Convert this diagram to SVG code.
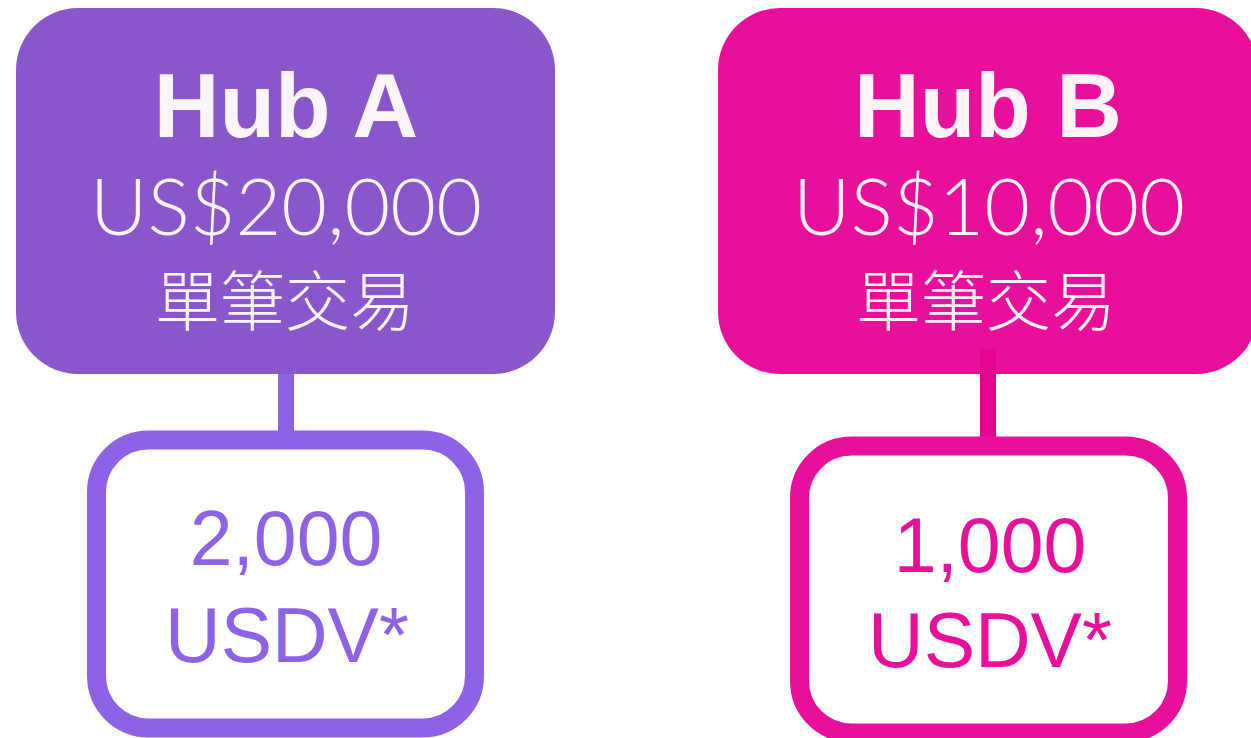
<svg xmlns="http://www.w3.org/2000/svg" width="1251" height="738" viewBox="0 0 1251 738">
<style>
.title{font-family:"Liberation Sans",Arial,sans-serif;font-weight:700;font-size:91px;text-anchor:middle}
.amt{font-family:Lato,"Noto Sans CJK TC",sans-serif;font-weight:300;font-size:79px;text-anchor:middle}
.cjk{font-family:"Noto Sans CJK TC","Noto Sans CJK SC",sans-serif;font-weight:300;font-size:65px;text-anchor:middle}
.val{font-family:"Liberation Sans",Arial,sans-serif;font-size:77px;text-anchor:middle}
.lt{fill:#F9F5FB}
.conn{fill:none;stroke-width:16}
.leaf{fill:#FFFFFF;stroke-width:19}
</style>
<rect width="1251" height="738" fill="#FFFFFF"/>
<g id="hubA">
<rect x="16" y="8" width="539" height="366" rx="62" ry="62" fill="#8957CB"/>
<text class="title lt" x="286" y="137">Hub A</text>
<text class="amt lt" x="286" y="235">US$20,000</text>
<text class="cjk lt" x="285" y="325">單筆交易</text>
</g>
<g id="hubB">
<rect x="718" y="8" width="540" height="366" rx="62" ry="62" fill="#E8109B"/>
<text class="title" fill="#FFF3FA" x="988" y="137">Hub B</text>
<text class="amt" fill="#FFF3FA" x="989" y="235">US$10,000</text>
<text class="cjk" fill="#FFF3FA" x="986" y="325">單筆交易</text>
</g>
<g id="connectors">
<line class="conn" x1="286" y1="374" x2="286" y2="440" stroke="#8E62E4"/>
<line class="conn" x1="988" y1="350" x2="988" y2="446" stroke="#E5058F"/>
</g>
<g id="leafA">
<rect class="leaf" x="96.5" y="440" width="378" height="288" rx="52" ry="52" stroke="#8E62E4"/>
<text class="val" fill="#8E62E4" x="286" y="565">2,000</text>
<text class="val" fill="#8E62E4" x="287" y="662">USDV*</text>
</g>
<g id="leafB">
<rect class="leaf" x="799.5" y="446" width="378" height="287" rx="52" ry="52" stroke="#E8109B"/>
<text class="val" fill="#E8109B" x="990" y="572">1,000</text>
<text class="val" fill="#E8109B" x="990" y="667">USDV*</text>
</g>
</svg>
